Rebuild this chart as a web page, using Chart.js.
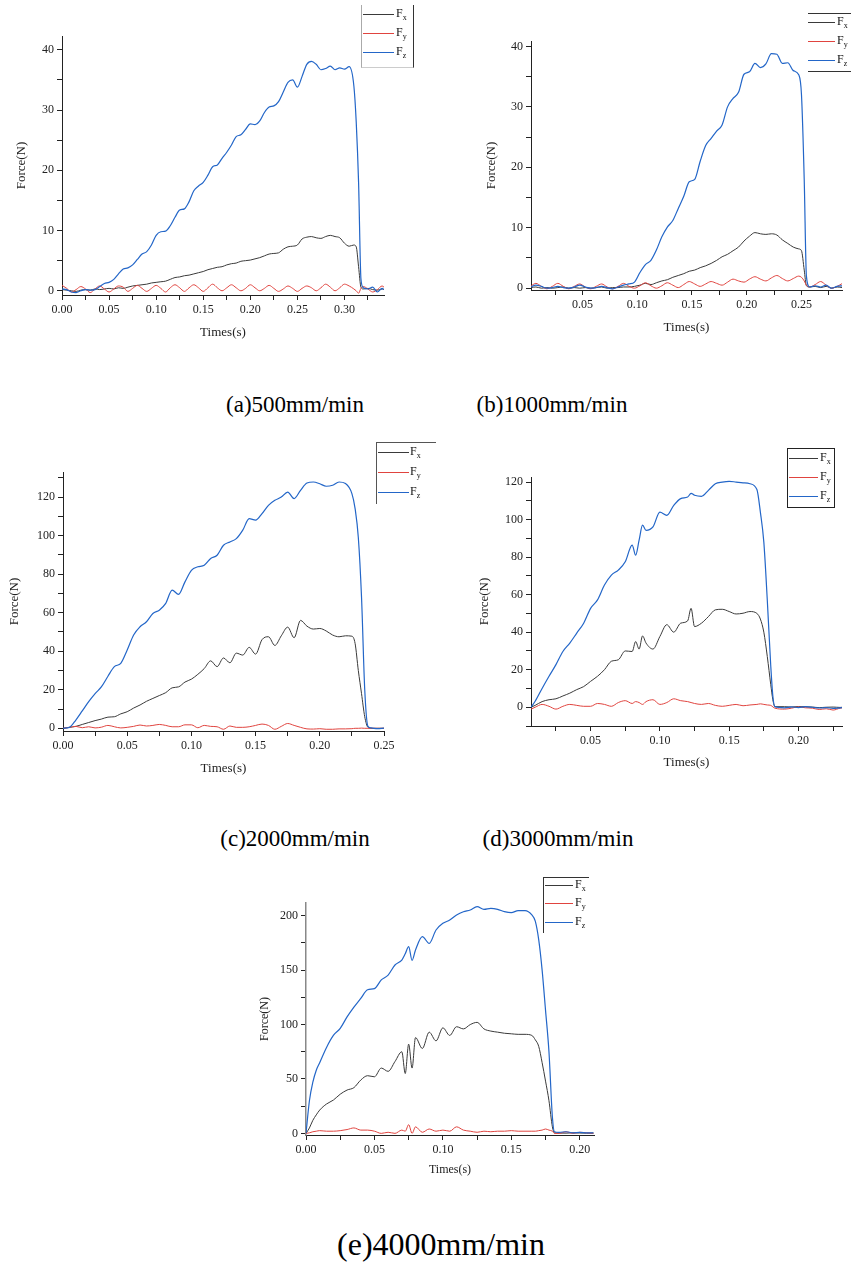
<!DOCTYPE html>
<html>
<head>
<meta charset="utf-8">
<script src="https://cdn.jsdelivr.net/npm/chart.js@4.4.1/dist/chart.umd.min.js"></script>
<style>
html,body{margin:0;padding:0;background:#fff;}
body{width:851px;height:1264px;position:relative;overflow:hidden;font-family:'Liberation Serif','Times New Roman',serif;}
.plot{position:absolute;}
.cap{position:absolute;white-space:nowrap;color:#000;line-height:1;transform:translateX(-50%);}
.lg{position:absolute;box-sizing:border-box;z-index:5;}
.lg .ln{position:absolute;height:0;border-top:1px solid;}
.lg .tx{position:absolute;font-size:12px;line-height:12px;transform:translateY(-55%);color:#111;white-space:nowrap;}
.lg sub{font-size:8px;vertical-align:-3px;line-height:0;}
</style>
</head>
<body>
<canvas id="ca" class="plot" width="390" height="319" style="left:14px;top:21px;"></canvas>
<canvas id="cb" class="plot" width="378" height="309" style="left:484px;top:26px;"></canvas>
<canvas id="cc" class="plot" width="397" height="319" style="left:7px;top:457px;"></canvas>
<canvas id="cd" class="plot" width="385" height="308" style="left:477px;top:462px;"></canvas>
<canvas id="ce" class="plot" width="356" height="289" style="left:258px;top:888px;"></canvas>

<div id="la" class="lg" style="left:361px;top:5px;width:53px;height:63px;border-left:1px solid #aaa;border-right:1px solid #333;border-bottom:1px solid #ccc;"></div>
<div id="lb" class="lg" style="left:808px;top:13px;width:60px;height:59px;border-top:1px solid #333;border-bottom:1px solid #333;"></div>
<div id="lc" class="lg" style="left:376px;top:442px;width:60px;height:62px;border-left:1px solid #555;border-top:1px solid #555;"></div>
<div id="ld" class="lg" style="left:787px;top:448px;width:48px;height:60px;border:1px solid #222;"></div>
<div id="le" class="lg" style="left:543px;top:877px;width:46px;height:56px;border-left:1px solid #333;border-top:1px solid #333;"></div>

<div class="cap" style="left:295px;top:393px;font-size:23px;">(a)500mm/min</div>
<div class="cap" style="left:552px;top:393px;font-size:23px;">(b)1000mm/min</div>
<div class="cap" style="left:295px;top:827px;font-size:23px;">(c)2000mm/min</div>
<div class="cap" style="left:558px;top:827px;font-size:23px;">(d)3000mm/min</div>
<div class="cap" style="left:441px;top:1228px;font-size:32px;">(e)4000mm/min</div>

<script>
// ---------------- DATA ----------------
const seriesName = 'F';
const seriesSub = ['x', 'y', 'z'];
const xTitle = 'Times(s)';
const yTitle = 'Force(N)';

// (a) 500 mm/min
const timeA = [0,0.005,0.01,0.015,0.02,0.025,0.03,0.035,0.04,0.045,0.05,0.055,0.06,0.065,0.07,0.075,0.08,0.085,0.09,0.095,0.1,0.105,0.11,0.115,0.12,0.125,0.13,0.135,0.14,0.145,0.15,0.155,0.16,0.165,0.17,0.175,0.18,0.185,0.19,0.195,0.2,0.205,0.21,0.215,0.22,0.225,0.23,0.235,0.24,0.245,0.25,0.255,0.26,0.265,0.27,0.275,0.28,0.285,0.29,0.295,0.3,0.305,0.31,0.3125,0.315,0.3175,0.32,0.325,0.33,0.335,0.34,0.342];
const fxA = [0.2,0.1,0.0,-0.1,0.1,0.2,0.1,0.3,0.2,0.3,
  0.4,0.3,0.5,0.4,0.6,0.8,0.9,1.0,1.1,1.3,
  1.4,1.5,1.6,1.9,2.2,2.3,2.5,2.6,2.8,3.0,
  3.2,3.5,3.7,3.9,4.0,4.3,4.5,4.6,4.9,5.0,
  5.1,5.3,5.5,5.8,6.1,6.2,6.3,6.9,7.3,7.4,
  7.6,8.6,8.9,9.0,8.8,8.7,9.0,9.2,9.0,8.8,
  7.9,7.4,7.6,7.3,4.0,0.6,0.3,0.4,0.2,0.1,0.3,0.2];
const fyA = [0.9,0.4,-0.2,0.2,0.7,0.3,-0.3,0.3,0.8,0.3,
  -0.2,0.3,0.8,0.6,-0.1,0.4,0.9,0.4,-0.1,0.4,
  0.9,0.4,-0.2,0.5,1.0,0.5,-0.1,0.5,1.0,0.5,
  -0.1,0.5,1.1,0.5,0.0,0.5,1.0,0.5,0.0,0.4,
  1.0,0.5,0.0,0.4,0.9,0.4,-0.1,0.3,0.8,0.4,
  -0.1,0.4,0.8,0.5,0.0,0.5,1.1,0.6,0.0,0.5,
  1.1,0.8,0.3,0.0,-0.4,0.4,0.7,0.3,-0.2,0.2,0.8,0.6];
const fzA = [0.3,0.2,-0.2,-0.3,0.0,0.2,0.1,0.2,0.7,1.2,
  1.4,1.9,2.8,3.6,3.8,4.3,5.2,6.1,6.5,7.6,
  9.2,9.8,9.9,10.8,12.2,13.4,13.6,14.8,16.6,17.4,
  18.0,19.2,20.6,20.9,22.0,23.0,24.2,25.6,25.9,26.8,
  27.7,27.6,28.2,29.6,30.5,30.7,31.4,33.0,34.6,35.0,
  33.8,35.6,37.6,38.1,37.6,36.7,36.9,37.3,36.7,37.0,
  36.8,37.2,34.0,28.0,18.0,2.0,0.5,0.3,0.6,-0.2,0.4,0.2];

// (b) 1000 mm/min
const timeB = [0.0025,0.0075,0.0125,0.0175,0.0225,0.0275,0.0325,0.0375,0.0425,0.0475,0.0525,0.0575,0.0625,0.0675,0.0725,0.0775,0.0825,0.0875,0.0925,0.0975,0.1025,0.1075,0.1125,0.1175,0.1225,0.1275,0.1325,0.1375,0.1425,0.1475,0.1525,0.1575,0.1625,0.1675,0.1725,0.1775,0.1825,0.1875,0.1925,0.1975,0.2025,0.2075,0.2125,0.2175,0.2225,0.2275,0.2325,0.2375,0.2425,0.2475,0.25,0.2525,0.2545,0.2575,0.2625,0.2675,0.2725,0.2775,0.2825,0.2875];
const fxB = [0.1,0.2,0.0,0.1,0.0,0.1,0.2,0.0,0.1,0.0,
  0.1,0.0,0.1,0.2,0.0,0.1,0.1,0.2,0.2,0.3,
  0.5,0.8,0.6,0.9,1.2,1.4,1.8,2.1,2.4,2.8,
  3.0,3.4,3.7,4.1,4.6,5.2,5.6,6.2,6.8,7.8,
  8.6,9.2,9.0,8.9,9.0,8.8,8.0,7.4,6.8,6.5,
  6.2,3.0,0.4,0.2,0.3,0.1,0.3,0.0,0.2,0.1];
const fyB = [0.3,0.8,0.3,-0.1,0.3,0.8,0.3,-0.1,0.3,0.7,
  0.2,-0.1,0.3,0.7,0.2,-0.1,0.3,0.8,0.3,0.0,
  0.4,0.9,0.4,0.0,0.4,0.9,0.5,0.1,0.6,1.1,
  0.7,0.3,0.7,1.1,0.8,0.5,1.0,1.5,1.2,1.0,
  1.5,1.9,1.5,1.2,1.7,2.1,1.6,1.2,1.6,2.0,
  1.8,1.2,0.5,0.2,0.6,1.1,0.5,0.0,0.3,0.8];
const fzB = [0.2,0.5,0.3,0.0,0.1,0.3,0.1,0.0,0.2,0.5,
  0.2,0.0,0.1,0.3,0.1,-0.1,0.2,0.5,0.7,1.0,
  2.6,3.9,4.6,6.3,8.5,10.1,11.2,13.2,15.2,17.6,
  18.0,21.0,23.6,24.8,26.0,27.0,30.0,31.4,32.4,35.4,
  35.8,37.2,36.5,37.1,38.8,38.7,37.2,37.3,36.0,35.3,
  32.0,18.0,2.0,0.2,0.4,0.2,0.5,0.0,0.3,0.4];

// (c) 2000 mm/min
const timeC = [0,0.005,0.01,0.015,0.02,0.025,0.03,0.035,0.04,0.045,0.05,0.055,0.06,0.065,0.07,0.075,0.08,0.085,0.09,0.095,0.1,0.105,0.11,0.115,0.12,0.125,0.13,0.135,0.14,0.145,0.15,0.155,0.16,0.165,0.17,0.175,0.18,0.185,0.19,0.195,0.2,0.205,0.21,0.215,0.22,0.225,0.2275,0.23,0.2325,0.235,0.2375,0.24,0.245,0.25];
const fxC = [0,0.5,1.0,2.0,3.0,4.0,4.8,5.8,6.0,7.5,
  8.6,10.5,12.1,14.0,15.5,17.0,18.5,21.0,21.5,24.0,
  25.5,28.0,31.0,35.0,32.0,36.5,34.0,39.0,38.0,42.0,
  38.5,46.0,47.5,43.0,48.0,52.5,47.0,56.0,53.0,51.5,
  51.8,50.5,48.4,47.5,48.0,47.8,
  44.0,30.0,18.0,6.0,0.5,0.0,0.0,0.0];
const fyC = [0,0.5,1.0,0.3,0.8,0.2,0.6,1.5,0.8,0.2,
  0.5,1.0,1.7,1.2,1.5,2.0,1.5,0.8,0.8,1.8,
  1.8,0.3,1.5,1.0,0.8,-0.5,1.2,0.5,0.5,0.8,
  1.5,2.2,1.5,-0.5,1.0,2.5,1.5,0.5,-0.3,-0.4,
  -0.2,-0.5,-0.5,-0.3,-0.3,-0.2,
  0.0,0.0,0.1,0.0,0.0,0.0,0.0,0.0];
const fzC = [0,0.5,4.3,9.0,13.8,18.0,21.6,27.0,32.0,33.7,
  40.6,48.4,52.7,55.3,59.6,61.3,64.8,71.7,69.5,76.0,
  82.0,83.8,84.6,88.1,89.8,95.0,96.7,98.4,102.8,108.8,
  108.0,111.4,115.7,118.3,120.0,122.6,119.2,123.5,127.3,127.8,
  126.9,125.6,126.1,127.8,127.0,121.8,
  114.0,99.0,68.0,20.0,1.0,0.2,-0.2,0.1];

// (d) 3000 mm/min
const timeD = [0.007,0.01,0.015,0.02,0.025,0.03,0.035,0.04,0.045,0.05,0.055,0.06,0.065,0.07,0.075,0.08,0.0825,0.085,0.0875,0.09,0.095,0.1,0.105,0.11,0.115,0.12,0.1225,0.125,0.13,0.135,0.14,0.145,0.15,0.155,0.16,0.165,0.17,0.1725,0.175,0.1775,0.18,0.1815,0.183,0.19,0.195,0.2,0.205,0.21,0.215,0.22,0.225,0.23,0.232];
const fxD = [0,1.0,3.0,4.0,4.5,6.0,7.5,9.4,11.0,13.8,
  16.5,20.0,24.5,25.3,30.0,29.7,35.0,31.0,38.0,34.2,
  31.0,37.7,44.0,40.0,44.8,46.0,52.7,43.0,44.8,48.3,
  51.9,52.2,51.0,49.7,50.1,51.0,50.0,47.0,40.0,27.0,
  12.0,4.0,0.3,0.3,0.1,0.4,0.2,0.1,-0.2,0.0,
  0.1,-0.1,0.0];
const fyD = [-1.0,0.0,1.5,0.5,-1.0,0.5,1.5,1.0,0.5,0.5,
  2.0,1.5,0.5,2.5,3.5,2.0,3.0,2.5,1.5,3.0,
  4.0,1.5,2.5,4.5,3.5,3.0,2.5,2.0,1.5,2.0,
  1.0,0.5,1.0,1.5,0.8,1.2,1.5,1.8,1.5,1.2,
  1.0,0.2,-0.5,-1.0,-0.5,0.2,-0.3,-0.5,-1.2,-0.8,
  -1.5,-0.5,-0.3];
const fzD = [0,3.2,10.0,16.5,22.7,29.7,34.2,39.5,44.8,52.7,
  57.2,65.1,70.4,73.1,77.5,86.4,81.0,89.0,97.0,94.3,
  96.1,104.0,102.3,107.6,111.2,112.0,114.0,113.0,112.4,115.6,
  119.1,120.0,120.4,120.0,119.6,119.1,116.0,104.0,88.0,57.0,
  22.0,6.0,0.3,-0.3,0.2,-0.2,0.3,0.0,-0.4,-0.2,
  -0.6,-0.3,-0.2];

// (e) 4000 mm/min
const timeE = [0,0.0025,0.005,0.0075,0.01,0.015,0.02,0.025,0.03,0.035,0.04,0.045,0.05,0.055,0.06,0.065,0.07,0.0725,0.075,0.0775,0.08,0.085,0.09,0.095,0.1,0.105,0.11,0.115,0.12,0.125,0.13,0.135,0.14,0.145,0.15,0.155,0.16,0.165,0.1675,0.17,0.1725,0.175,0.1775,0.18,0.1815,0.185,0.19,0.195,0.2,0.205,0.21];
const fxE = [0,5,12,17,21.4,27,30.6,36,39.8,42,
  49,53,52,60,57,66,75,55,82,60,
  88,78,93,85,97,90,98,96,100,102,
  96,94,93,92,91.5,91,91,90,86,80,
  65,48,30,6,0.5,0.3,0.2,0.5,0.3,0.2,0.3];
const fyE = [0,0.5,1.5,2,2.5,2,2,2.5,3.5,5,
  3,3,2,0,1,0,3,2,8,0,
  6,1,4,2,3,2,6,3,2,1,
  2,1.5,2,2,2.5,2,2,2,2,2.5,
  3,4,3,2,0,0,1.5,0,1,0.5,0];
const fzE = [0,30,47,58,65,79,90,96.5,107,116,
  124,132,133,141,145.5,154.7,159.3,165,171.6,159,
  168.5,180.8,174.6,186.9,193,196,200.7,203.7,205.3,208.3,
  205.9,206.8,205.9,203.7,202.8,204.7,204.7,200.7,195,178,
  150,113,75,15,1.5,1.0,1.5,0.5,1.0,0.5,0.5];

// ---------------- STYLE / BUILD ----------------
const FONT = "'Liberation Serif', 'Times New Roman', serif";
const colors = ['#3a3a3a', '#e0443f', '#2366c8'];
const widths = [1, 1, 1.2];

function pts(t, v) { return t.map((x, i) => ({ x: x, y: v[i] })); }
function isMajor(v, major) { const r = v / major; return Math.abs(r - Math.round(r)) < 1e-6; }

function makeChart(id, t, fx, fy, fz, s) {
  const series = [fx, fy, fz];
  return new Chart(document.getElementById(id), {
    type: 'line',
    data: {
      datasets: series.map((v, k) => ({
        label: seriesName + seriesSub[k],
        data: pts(t, v),
        borderColor: colors[k],
        borderWidth: widths[k],
        cubicInterpolationMode: 'monotone',
        order: 2 - k
      }))
    },
    options: {
      responsive: false, animation: false, devicePixelRatio: 1,
      parsing: false,
      elements: { point: { radius: 0 }, line: { fill: false } },
      layout: { padding: { left: 0, top: 15, right: 20, bottom: 0 } },
      plugins: { legend: { display: false }, tooltip: { enabled: false } },
      scales: {
        x: {
          type: 'linear', min: s.xMin, max: s.xMax,
          afterFit: sc => { sc.height = s.xH; },
          border: { display: true, color: '#222', width: 1 },
          grid: { drawOnChartArea: false, drawTicks: true, tickLength: 5, color: '#222' },
          ticks: { stepSize: s.xStep, includeBounds: false, autoSkip: false, maxRotation: 0, minRotation: 0,
                   padding: 3, color: '#222', font: { family: FONT, size: 12 },
                   callback: v => isMajor(v, s.xMajor) ? v.toFixed(2) : '' },
          title: { display: true, text: xTitle, color: '#222', font: { family: FONT, size: s.tSize }, padding: 0 }
        },
        y: {
          type: 'linear', min: s.yMin, max: s.yMax,
          afterFit: sc => { sc.width = s.yW; },
          border: { display: true, color: s.yBorder || '#222', width: s.yBorderW || 1 },
          grid: { drawOnChartArea: false, drawTicks: true, tickLength: 5, color: '#222' },
          ticks: { stepSize: s.yStep, includeBounds: false, autoSkip: false,
                   padding: 3, color: '#222', font: { family: FONT, size: 12 },
                   callback: v => (v >= 0 && isMajor(v, s.yMajor)) ? String(Math.round(v)) : '' },
          title: { display: true, text: yTitle, color: '#222', font: { family: FONT, size: s.tSize }, padding: 0 }
        }
      }
    }
  });
}

makeChart('ca', timeA, fxA, fyA, fzA, { xMin: 0, xMax: 0.342, xStep: 0.025, xMajor: 0.05, yMin: -0.7, yMax: 42.3, yStep: 5, yMajor: 10, yW: 48, xH: 45, tSize: 13 });
makeChart('cb', timeB, fxB, fyB, fzB, { xMin: 0.003, xMax: 0.287, xStep: 0.025, xMajor: 0.05, yMin: -0.3, yMax: 40.9, yStep: 5, yMajor: 10, yW: 47, xH: 45, tSize: 13 });
makeChart('cc', timeC, fxC, fyC, fzC, { xMin: 0, xMax: 0.25, xStep: 0.025, xMajor: 0.05, yMin: -1.4, yMax: 133, yStep: 10, yMajor: 20, yW: 56, xH: 45, tSize: 13 });
makeChart('cd', timeD, fxD, fyD, fzD, { xMin: 0.007, xMax: 0.2314, xStep: 0.025, xMajor: 0.05, yMin: -10, yMax: 122.7, yStep: 10, yMajor: 20, yW: 54, xH: 44, tSize: 13 });
makeChart('ce', timeE, fxE, fyE, fzE, { xMin: 0, xMax: 0.2104, xStep: 0.025, xMajor: 0.05, yMin: -1.5, yMax: 211.7, yStep: 25, yMajor: 50, yW: 48, xH: 42, tSize: 12, yBorder: '#888', yBorderW: 1.5 });

// ---------------- LEGENDS ----------------
function makeLegend(id, rows, lineX, lineW, textX) {
  const box = document.getElementById(id);
  rows.forEach((y, k) => {
    const ln = document.createElement('div');
    ln.className = 'ln';
    ln.style.left = lineX + 'px'; ln.style.top = y + 'px'; ln.style.width = lineW + 'px';
    ln.style.borderTopColor = colors[k];
    box.appendChild(ln);
    const tx = document.createElement('div');
    tx.className = 'tx';
    tx.style.left = textX + 'px'; tx.style.top = y + 'px';
    tx.innerHTML = seriesName + '<sub>' + seriesSub[k] + '</sub>';
    box.appendChild(tx);
  });
}
makeLegend('la', [9, 28.3, 47.3], 1, 31, 34);
makeLegend('lb', [8, 27, 46], 0, 27, 29);
makeLegend('lc', [9.3, 29.3, 49.3], 1, 31, 33);
makeLegend('ld', [9.3, 27.7, 46.7], 1, 29, 32);
makeLegend('le', [7, 25.3, 43.7], 1, 28, 31);
</script>
</body>
</html>
